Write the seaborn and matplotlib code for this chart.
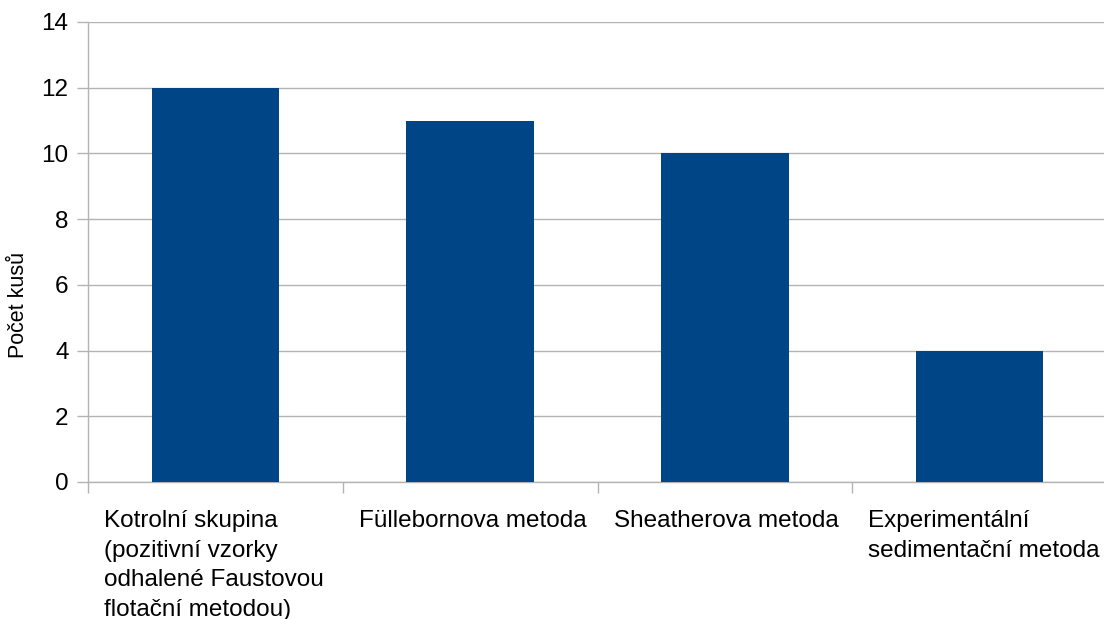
import matplotlib
matplotlib.use("Agg")
import matplotlib.pyplot as plt
import matplotlib.transforms as mtransforms
import seaborn as sns
import pandas as pd

categories = [
    "Kotrolní skupina\n(pozitivní vzorky\nodhalené Faustovou\nflotační metodou)",
    "Füllebornova metoda",
    "Sheatherova metoda",
    "Experimentální\nsedimentační metoda",
]
counts = [12, 11, 10, 4]
y_ticks = [0, 2, 4, 6, 8, 10, 12, 14]
y_label = "Počet kusů"

sns.set_theme(style="white")
plt.rcParams["font.family"] = ["Liberation Sans", "DejaVu Sans"]

grid_col = "#b3b3b3"
bar_col = "#004586"

fig = plt.figure(figsize=(11.04, 6.19), dpi=100)
ax = fig.add_axes([88 / 1104, 137 / 619, 1019 / 1104, 460 / 619])

df = pd.DataFrame({"cat": categories, "n": counts})
sns.barplot(data=df, x="cat", y="n", color=bar_col, width=0.5,
            saturation=1, linewidth=0, ax=ax, zorder=3)

ax.set_xlim(-0.5, len(categories) - 0.5)
ax.set_ylim(0, 14)
ax.set_yticks(y_ticks)
ax.set_yticklabels([str(v) for v in y_ticks], fontsize=17.5)
ax.yaxis.grid(True, color=grid_col, linewidth=1.0, zorder=0)
ax.set_axisbelow(True)

# tick marks between categories, labels drawn separately
ax.set_xticks([i - 0.5 for i in range(len(categories) + 1)])
ax.set_xticklabels([])
ax.tick_params(axis="x", direction="out", length=8, width=1, color=grid_col, bottom=True)
ax.tick_params(axis="y", direction="out", length=8, width=1, color=grid_col, left=True,
               pad=6, labelcolor="black")

for side in ["top", "right"]:
    ax.spines[side].set_visible(False)
for side in ["left", "bottom"]:
    ax.spines[side].set_color(grid_col)
    ax.spines[side].set_linewidth(1.0)

ax.set_xlabel("")
ax.set_ylabel("")
fig.text(19 / 1104, 1 - 305 / 619, y_label, rotation=90, ha="center", va="center",
         fontsize=15.5, color="black")

trans = mtransforms.blended_transform_factory(ax.transData, ax.transAxes)
offset = mtransforms.ScaledTranslation(16 / 100, -28 / 100, fig.dpi_scale_trans)
for i, lab in enumerate(categories):
    ax.text(i - 0.5, 0, lab, transform=trans + offset, ha="left", va="top",
            fontsize=17.5, linespacing=1.45, color="black")

fig.savefig("out.png", dpi=100)
